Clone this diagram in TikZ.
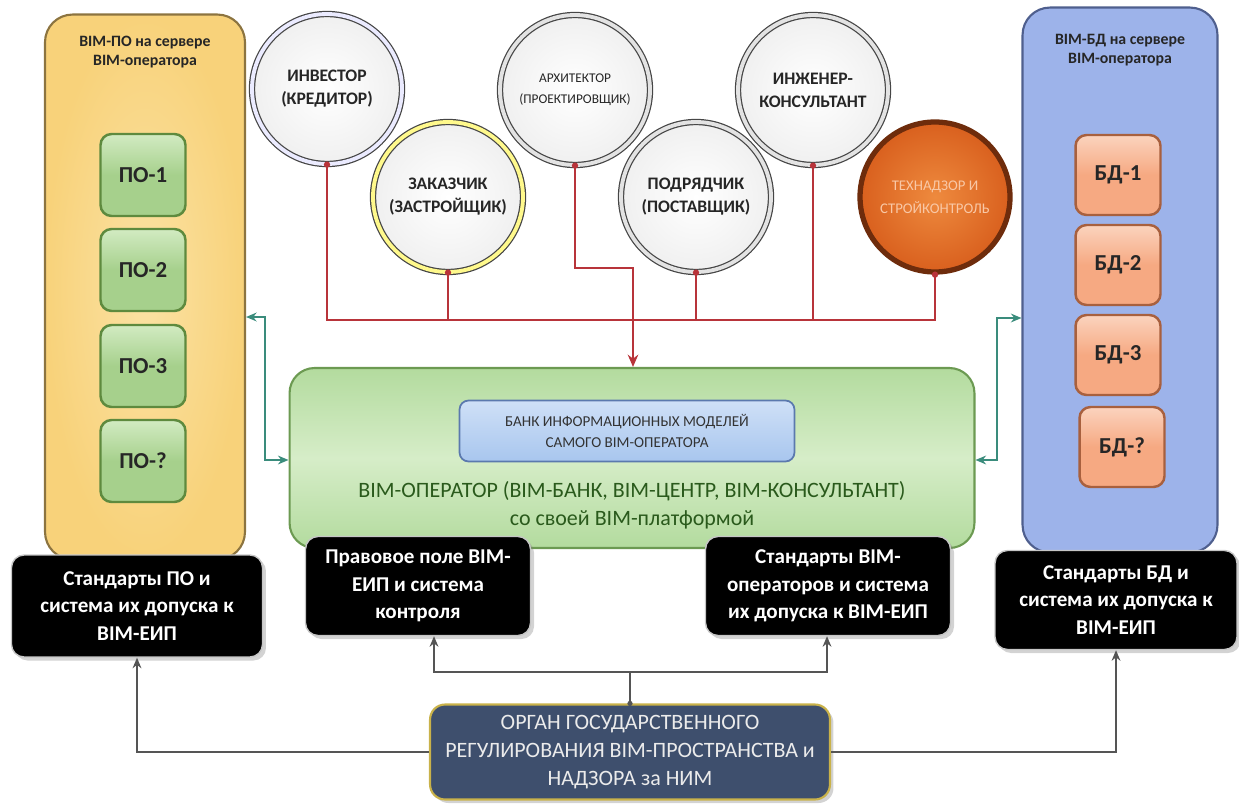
\documentclass[tikz,border=0pt]{standalone}
\usepackage{fontspec}
\setmainfont{Carlito}
\usetikzlibrary{arrows.meta,shadows,calc}
\definecolor{panelY}{HTML}{F8D27A}
\definecolor{panelYin}{HTML}{FBE2A4}
\definecolor{panelYd}{HTML}{8C7440}
\definecolor{boxG}{HTML}{A6D08C}
\definecolor{boxGl}{HTML}{D2EBC2}
\definecolor{boxGd}{HTML}{5E8A3E}
\definecolor{panelB}{HTML}{9DB3EA}
\definecolor{panelBd}{HTML}{4F5F8E}
\definecolor{boxS}{HTML}{F6A982}
\definecolor{boxSl}{HTML}{FBD3BE}
\definecolor{boxSd}{HTML}{A8603E}
\definecolor{opG}{HTML}{B3DB9E}
\definecolor{opGl}{HTML}{D6EDC8}
\definecolor{opGd}{HTML}{6C9A52}
\definecolor{opTxt}{HTML}{2A5A1C}
\definecolor{bankB}{HTML}{A8C6EE}
\definecolor{bankBl}{HTML}{CFE0F7}
\definecolor{bankBd}{HTML}{5B79AE}
\definecolor{orgB}{HTML}{3E4F6D}
\definecolor{orgEdge}{HTML}{C9B24A}
\definecolor{redL}{HTML}{B8343A}
\definecolor{tealL}{HTML}{3A8C7C}
\definecolor{grayL}{HTML}{555555}
\definecolor{orangeC}{HTML}{D9601E}
\definecolor{orangeCl}{HTML}{EE8A3E}
\definecolor{orangeD}{HTML}{6E2C0C}
\definecolor{peach}{HTML}{F9C8A6}
\begin{document}
\begin{tikzpicture}[x=0.02cm,y=-0.02cm,
  panel/.style={rounded corners=0.55cm, line width=1.2pt},
  ptitle/.style={font=\fontsize{9}{11}\selectfont\bfseries, align=center, text=black!85},
  gbox/.style={rounded corners=0.22cm, draw=boxGd, line width=1.4pt, top color=boxGl, bottom color=boxG, middle color=boxG,
    minimum width=1.7cm, minimum height=1.64cm, font=\fontsize{13}{15}\selectfont\bfseries, text=black!85},
  sbox/.style={rounded corners=0.22cm, draw=boxSd, line width=1.4pt, top color=boxSl, bottom color=boxS, middle color=boxS,
    minimum width=1.7cm, minimum height=1.6cm, font=\fontsize{13}{15}\selectfont\bfseries, text=black!85},
  actor/.style={circle, minimum size=3cm, inner sep=0pt, draw=gray!55!black, line width=0.7pt,
    double=gray!22, double distance=2.2pt, inner color=white, outer color=gray!12, align=center,
    font=\fontsize{10}{13}\selectfont\bfseries, text=black!85},
  blackbox/.style={rounded corners=0.25cm, fill=black, draw=gray!45, line width=0.8pt, align=center,
    text=white, font=\fontsize{12}{15.5}\selectfont\bfseries, drop shadow={opacity=0.35, shadow xshift=2pt, shadow yshift=-2pt}},
  redline/.style={draw=redL, line width=1.1pt},
  tealline/.style={draw=tealL, line width=1.3pt, {Stealth[length=6pt,width=5pt]}-{Stealth[length=6pt,width=5pt]}},
  grayline/.style={draw=grayL, line width=1pt},
  grayarrow/.style={grayline, -{Stealth[length=6pt,width=5pt]}},
]
\useasboundingbox (0,0) rectangle (1239,807);

% ---- left panel
\node[panel, draw=panelYd, inner color=panelYin, outer color=panelY, minimum width=4cm, minimum height=10.9cm] (lp) at (145,287) {};
\node[ptitle] (lpt) at (145,52) {BIM-ПО на сервере\\BIM-оператора};
\node[gbox] (po1) at (143,175) {ПО-1};
\node[gbox] (po2) at (143,270) {ПО-2};
\node[gbox] (po3) at (143,366) {ПО-3};
\node[gbox] (po4) at (143,461) {ПО-?};

% ---- right panel
\node[panel, draw=panelBd, fill=panelB, minimum width=3.9cm, minimum height=10.9cm] (rp) at (1120,280) {};
\node[ptitle] (rpt) at (1120,50) {BIM-БД на сервере\\BIM-оператора};
\node[sbox] (bd1) at (1118,175) {БД-1};
\node[sbox] (bd2) at (1118,265) {БД-2};
\node[sbox] (bd3) at (1118,355) {БД-3};
\node[sbox] (bd4) at (1122,447) {БД-?};

% ---- actor circles
\node[actor, double=blue!8] (inv) at (327,89) {ИНВЕСТОР\\(КРЕДИТОР)};
\node[actor, double=yellow!45] (cust) at (448,197) {ЗАКАЗЧИК\\(ЗАСТРОЙЩИК)};
\node[actor, font=\fontsize{7.6}{12}\selectfont] (arch) at (575,90) {АРХИТЕКТОР\\(ПРОЕКТИРОВЩИК)};
\node[actor] (contr) at (696,197) {ПОДРЯДЧИК\\(ПОСТАВЩИК)};
\node[actor] (eng) at (813,90) {ИНЖЕНЕР-\\КОНСУЛЬТАНТ};
\node[circle, minimum size=3cm, inner sep=0pt, draw=orangeD, line width=3pt, inner color=orangeCl, outer color=orangeC,
  align=center, font=\fontsize{8.4}{13}\selectfont, text=peach] (tech) at (935,197) {ТЕХНАДЗОР И\\СТРОЙКОНТРОЛЬ};

% ---- central operator
\node[rounded corners=0.5cm, draw=opGd, line width=1.2pt, top color=opG, bottom color=opG, middle color=opGl,
  minimum width=13.7cm, minimum height=3.6cm] (op) at (632,458) {};
\node[rounded corners=0.18cm, draw=bankBd, line width=1pt, top color=bankBl, bottom color=bankB,
  minimum width=6.7cm, minimum height=1.22cm, align=center, font=\fontsize{8.6}{12}\selectfont, text=black!80] (bank) at (627,431)
  {БАНК ИНФОРМАЦИОННЫХ МОДЕЛЕЙ\\САМОГО BIM-ОПЕРАТОРА};
\node[align=center, font=\fontsize{12.5}{16}\selectfont, text=opTxt] (optxt) at (632,505)
  {BIM-ОПЕРАТОР (BIM-БАНК, BIM-ЦЕНТР, BIM-КОНСУЛЬТАНТ)\\со своей BIM-платформой};

% ---- black boxes
\node[blackbox, minimum width=5.02cm, minimum height=2.04cm] (stpo) at (137,606) {Стандарты ПО и\\система их допуска к\\BIM-ЕИП};
\node[blackbox, minimum width=4.5cm, minimum height=1.98cm] (law) at (418,586) {Правовое поле BIM-\\ЕИП и система\\контроля};
\node[blackbox, minimum width=4.9cm, minimum height=1.98cm] (stop) at (828,586) {Стандарты BIM-\\операторов и система\\их допуска к BIM-ЕИП};
\node[blackbox, minimum width=4.84cm, minimum height=1.98cm] (stbd) at (1116,600) {Стандарты БД и\\система их допуска к\\BIM-ЕИП};

% ---- regulator
\node[rounded corners=0.3cm, fill=orgB, draw=orgEdge, line width=1.2pt, minimum width=8cm, minimum height=1.9cm,
  align=center, font=\fontsize{12.5}{16}\selectfont, text=white!92!black,
  drop shadow={opacity=0.35, shadow xshift=2pt, shadow yshift=-2pt}] (org) at (630,752)
  {ОРГАН ГОСУДАРСТВЕННОГО\\РЕГУЛИРОВАНИЯ BIM-ПРОСТРАНСТВА и\\НАДЗОРА за НИМ};

% ---- red connectors
\coordinate (bus) at (0,320);
\coordinate (jog) at (633,268);
\draw[redline] (inv.south) -- (inv.south |- bus) -- (tech.south |- bus) -- (tech.south);
\draw[redline] (cust.south) -- (cust.south |- bus);
\draw[redline] (contr.south) -- (contr.south |- bus);
\draw[redline] (eng.south) -- (eng.south |- bus);
\draw[redline, -{Stealth[length=7pt,width=6pt]}] (arch.south) -- (arch.south |- jog) -- (jog) -- (jog |- op.north);
\foreach \c in {inv,cust,arch,contr,eng,tech} \fill[redL] (\c.south) circle (1.8pt);

% ---- teal connectors
\coordinate (tl) at (265,317);
\coordinate (tr) at (997,318);
\draw[tealline] (lp.east |- tl) -- (tl) -- (tl |- 0,460) -- (op.west |- 0,460);
\draw[tealline] (rp.west |- tr) -- (tr) -- (tr |- 0,460) -- (op.east |- 0,460);

% ---- gray connectors
\coordinate (hub) at (630,672);
\draw[grayline] (org.north) -- (hub);
\fill[grayL] (org.north) circle (1.5pt);
\draw[grayarrow] (hub) -| (law.south -| 434,0);
\draw[grayarrow] (hub) -| (stop.south -| 827,0);
\draw[grayarrow] (org.west) -| (stpo.south);
\draw[grayarrow] (org.east) -| (stbd.south);
\end{tikzpicture}
\end{document}
